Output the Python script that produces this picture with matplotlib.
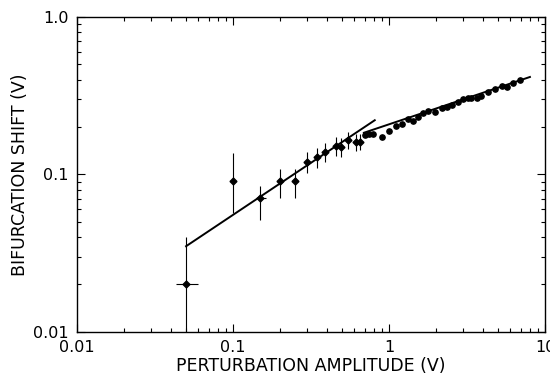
import matplotlib
matplotlib.use("Agg")
import matplotlib.pyplot as plt
import numpy as np
from matplotlib.ticker import FixedLocator, FixedFormatter, LogLocator, NullFormatter

plt.rcParams["font.family"] = ["DejaVu Sans"]

# low-amplitude points with error bars
amp_err = [0.05, 0.10, 0.15, 0.20, 0.25, 0.30, 0.345, 0.39, 0.455, 0.49, 0.545, 0.61, 0.65]
shift_err = [0.020, 0.091, 0.071, 0.091, 0.091, 0.12, 0.129, 0.139, 0.152, 0.150, 0.165, 0.160, 0.160]
shift_lo = [0.010, 0.057, 0.051, 0.071, 0.071, 0.102, 0.110, 0.120, 0.131, 0.130, 0.145, 0.140, 0.142]
shift_hi = [0.040, 0.137, 0.084, 0.108, 0.108, 0.139, 0.148, 0.158, 0.172, 0.170, 0.186, 0.182, 0.182]
amp_lo = [0.0434, 0.095, 0.140, 0.192, 0.240, 0.29, 0.335, 0.38, 0.445, 0.48, 0.535, 0.60, 0.64]
amp_hi = [0.0597, 0.105, 0.162, 0.208, 0.262, 0.31, 0.355, 0.40, 0.465, 0.50, 0.555, 0.62, 0.66]

# high-amplitude dense points
amp_dot = [0.70, 0.74, 0.79, 0.90, 1.00, 1.11, 1.21, 1.33, 1.42, 1.53, 1.66, 1.78, 1.98,
           2.18, 2.35, 2.55, 2.75, 2.97, 3.20, 3.37, 3.65, 3.90, 4.30, 4.80, 5.30,
           5.70, 6.20, 6.90]
shift_dot = [0.178, 0.181, 0.181, 0.172, 0.190, 0.203, 0.209, 0.225, 0.220, 0.232, 0.246,
             0.253, 0.250, 0.264, 0.268, 0.276, 0.288, 0.300, 0.306, 0.306, 0.306, 0.315,
             0.335, 0.348, 0.365, 0.360, 0.380, 0.400]

# fitted power-law segments
fit1_x = [0.05, 0.81]
fit1_y = [0.035, 0.221]
fit2_x = [0.69, 8.0]
fit2_y = [0.184, 0.416]

fig = plt.figure(figsize=(5.5, 3.78), dpi=100)
ax = fig.add_axes([0.14, 0.122, 0.851, 0.833])

ax.set_xscale("log")
ax.set_yscale("log")
ax.set_xlim(0.01, 10)
ax.set_ylim(0.01, 1.0)

a = np.array(amp_err)
s = np.array(shift_err)
ax.errorbar(a, s,
            yerr=[s - np.array(shift_lo), np.array(shift_hi) - s],
            xerr=[a - np.array(amp_lo), np.array(amp_hi) - a],
            fmt="D", ms=3.5, color="black", ecolor="black", elinewidth=0.8, capsize=0)

ax.plot(amp_dot, shift_dot, "o", ms=3.8, color="black")
ax.plot(fit1_x, fit1_y, "-", color="black", lw=1.4)
ax.plot(fit2_x, fit2_y, "-", color="black", lw=1.4)

ax.xaxis.set_major_locator(FixedLocator([0.01, 0.1, 1, 10]))
ax.xaxis.set_major_formatter(FixedFormatter(["0.01", "0.1", "1", "10"]))
ax.yaxis.set_major_locator(FixedLocator([0.01, 0.1, 1.0]))
ax.yaxis.set_major_formatter(FixedFormatter(["0.01", "0.1", "1.0"]))
ax.xaxis.set_minor_locator(LogLocator(base=10, subs=np.arange(2, 10)))
ax.yaxis.set_minor_locator(LogLocator(base=10, subs=np.arange(2, 10)))
ax.xaxis.set_minor_formatter(NullFormatter())
ax.yaxis.set_minor_formatter(NullFormatter())

ax.tick_params(which="both", direction="in", top=True, right=True, width=0.8, labelsize=11.5)
ax.tick_params(which="major", length=6, pad=6)
ax.tick_params(which="minor", length=3)
for sp in ax.spines.values():
    sp.set_linewidth(1.0)

ax.set_xlabel("PERTURBATION AMPLITUDE (V)", fontsize=12.5, labelpad=1)
ax.set_ylabel("BIFURCATION SHIFT (V)", fontsize=12.5, labelpad=3)

fig.savefig("out.png", dpi=100)
